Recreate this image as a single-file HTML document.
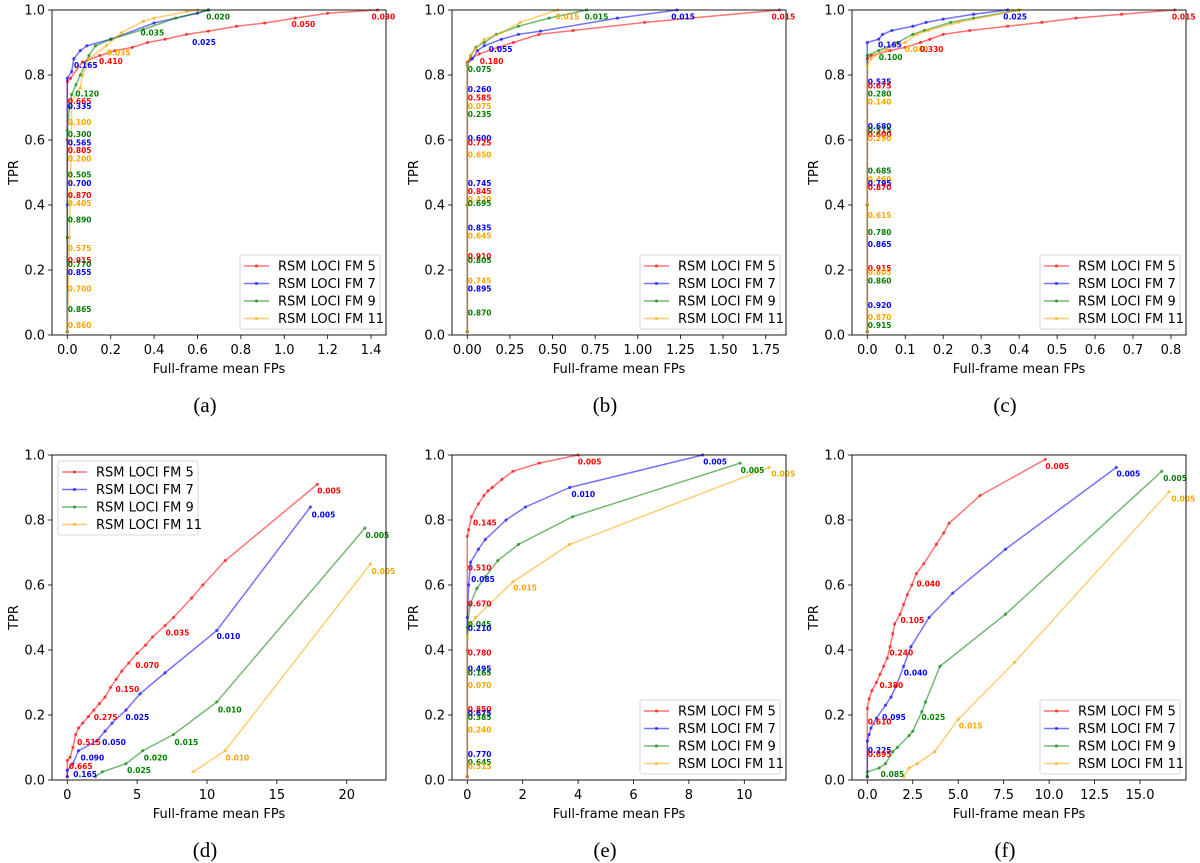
<!DOCTYPE html>
<html><head><meta charset="utf-8"><style>
html,body{margin:0;padding:0;background:#fff;}
svg{display:block;font-family:"DejaVu Sans","Liberation Sans",sans-serif;}
</style></head><body>
<svg id="fig" width="1200" height="863" viewBox="0 0 1200 863"></svg>
<script>
const seriesNames = ["RSM LOCI FM 5","RSM LOCI FM 7","RSM LOCI FM 9","RSM LOCI FM 11"];
const seriesColors = ["#ff0000","#0000ff","#008000","#ffa500"];
const panelLetters = ["(a)","(b)","(c)","(d)","(e)","(f)"];
const yTicks = [0,0.2,0.4,0.6,0.8,1.0];
const xTicksA = [0,0.2,0.4,0.6,0.8,1.0,1.2,1.4];
const xTicksB = [0,0.25,0.5,0.75,1.0,1.25,1.5,1.75];
const xTicksC = [0,0.1,0.2,0.3,0.4,0.5,0.6,0.7,0.8];
const xTicksD = [0,5,10,15,20];
const xTicksE = [0,2,4,6,8,10];
const xTicksF = [0,2.5,5,7.5,10,12.5,15];

const a_fm5 = [[0,0.01],[0,0.3],[0,0.6],[0,0.78],[0.015,0.79],[0.07,0.84],[0.15,0.86],[0.22,0.875],[0.3,0.885],[0.37,0.9],[0.45,0.91],[0.55,0.925],[0.65,0.935],[0.78,0.95],[0.91,0.96],[1.05,0.975],[1.2,0.99],[1.43,1.0]];
const a_fm7 = [[0,0.01],[0,0.4],[0,0.79],[0.02,0.81],[0.03,0.85],[0.06,0.875],[0.09,0.89],[0.2,0.91],[0.4,0.96],[0.6,0.99],[0.65,1.0]];
const a_fm9 = [[0,0.01],[0,0.3],[0,0.63],[0.01,0.7],[0.02,0.74],[0.04,0.77],[0.06,0.8],[0.1,0.86],[0.13,0.89],[0.2,0.91],[0.35,0.94],[0.5,0.975],[0.65,1.0]];
const a_fm11 = [[0,0.01],[0.01,0.3],[0.02,0.65],[0.02,0.72],[0.06,0.76],[0.07,0.8],[0.1,0.85],[0.18,0.89],[0.25,0.93],[0.35,0.965],[0.4,0.975],[0.55,0.995],[0.6,1.0]];
const b_fm5 = [[0,0.01],[0,0.4],[0,0.84],[0.02,0.85],[0.07,0.865],[0.18,0.885],[0.27,0.9],[0.42,0.925],[0.62,0.937],[1.04,0.962],[1.83,1.0]];
const b_fm7 = [[0,0.01],[0,0.4],[0,0.835],[0.03,0.85],[0.06,0.875],[0.1,0.89],[0.2,0.91],[0.3,0.925],[0.43,0.935],[0.88,0.975],[1.23,1.0]];
const b_fm9 = [[0,0.01],[0,0.4],[0,0.83],[0.02,0.86],[0.05,0.885],[0.1,0.9],[0.17,0.925],[0.3,0.95],[0.48,0.975],[0.7,1.0]];
const b_fm11 = [[0,0.01],[0,0.4],[0,0.835],[0.02,0.86],[0.05,0.88],[0.1,0.91],[0.2,0.93],[0.31,0.962],[0.53,1.0]];
const c_fm5 = [[0,0.01],[0,0.4],[0,0.85],[0.01,0.86],[0.06,0.875],[0.1,0.885],[0.14,0.9],[0.165,0.91],[0.2,0.925],[0.27,0.937],[0.37,0.95],[0.46,0.962],[0.55,0.975],[0.67,0.987],[0.81,1.0]];
const c_fm7 = [[0,0.01],[0,0.4],[0,0.9],[0.03,0.91],[0.04,0.925],[0.065,0.937],[0.12,0.95],[0.155,0.962],[0.2,0.972],[0.28,0.987],[0.37,1.0]];
const c_fm9 = [[0,0.01],[0,0.4],[0,0.86],[0.03,0.875],[0.08,0.9],[0.12,0.925],[0.15,0.937],[0.22,0.962],[0.28,0.975],[0.4,1.0]];
const c_fm11 = [[0,0.01],[0,0.4],[0,0.83],[0.01,0.85],[0.02,0.86],[0.05,0.88],[0.1,0.9],[0.13,0.925],[0.16,0.937],[0.24,0.962],[0.4,1.0]];
const d_fm5 = [[0,0.01],[0,0.06],[0.2,0.07],[0.4,0.1],[0.6,0.14],[0.8,0.16],[1.1,0.175],[1.5,0.195],[1.9,0.215],[2.3,0.235],[2.7,0.255],[3.1,0.285],[3.5,0.31],[3.9,0.335],[4.4,0.36],[5,0.39],[5.6,0.415],[6.1,0.44],[7,0.475],[7.6,0.5],[8.9,0.56],[9.7,0.6],[11.3,0.675],[17.9,0.91]];
const d_fm7 = [[0,0.01],[0,0.03],[0.4,0.05],[0.8,0.09],[2.1,0.12],[2.7,0.15],[3.2,0.175],[4.2,0.215],[5.2,0.265],[7,0.33],[10.7,0.46],[17.4,0.84]];
const d_fm9 = [[2,0.01],[2.5,0.025],[4.2,0.05],[5.4,0.09],[7.6,0.14],[10.7,0.24],[21.3,0.775]];
const d_fm11 = [[9,0.025],[11.3,0.09],[21.7,0.665]];
const e_fm5 = [[0,0.01],[0,0.4],[0,0.75],[0.05,0.77],[0.15,0.81],[0.4,0.85],[0.6,0.875],[0.75,0.89],[0.9,0.9],[1.25,0.925],[1.65,0.95],[2.6,0.975],[4,1.0]];
const e_fm7 = [[0,0.01],[0,0.5],[0.05,0.6],[0.12,0.67],[0.4,0.71],[0.65,0.74],[1.4,0.8],[2.1,0.84],[3.7,0.9],[8.5,1.0]];
const e_fm9 = [[0,0.01],[0,0.47],[0.1,0.54],[0.35,0.59],[0.65,0.625],[1.1,0.675],[1.85,0.725],[3.8,0.81],[9.85,0.975]];
const e_fm11 = [[0,0.01],[0,0.44],[0.1,0.48],[0.3,0.5],[1.65,0.61],[3.7,0.725],[10.9,0.962]];
const f_fm5 = [[0,0.01],[0,0.22],[0.1,0.25],[0.25,0.275],[0.5,0.3],[0.7,0.325],[0.9,0.35],[1.1,0.375],[1.25,0.41],[1.4,0.45],[1.5,0.48],[1.8,0.51],[2,0.54],[2.2,0.57],[2.45,0.6],[2.7,0.635],[3.1,0.665],[3.8,0.725],[4.2,0.76],[4.5,0.79],[6.2,0.875],[9.8,0.987]];
const f_fm7 = [[0,0.01],[0,0.12],[0.1,0.14],[0.2,0.16],[0.5,0.19],[1,0.23],[1.3,0.255],[1.6,0.29],[2,0.35],[2.4,0.41],[3.4,0.5],[4.7,0.575],[7.6,0.71],[13.7,0.962]];
const f_fm9 = [[0,0.01],[0,0.025],[0.65,0.037],[1,0.05],[1.4,0.087],[1.65,0.1],[2.3,0.137],[2.5,0.15],[3,0.21],[3.2,0.24],[4,0.35],[7.6,0.51],[16.2,0.95]];
const f_fm11 = [[2,0.01],[2.3,0.037],[2.75,0.05],[3.7,0.087],[5,0.187],[8.1,0.362],[16.6,0.887]];

const a_notes = [[0,0.718,"0.665",0],[0,0.703,"0.335",1],[0,0.654,"0.100",3],[0,0.617,"0.300",2],[0,0.591,"0.565",1],[0,0.567,"0.805",0],[0,0.542,"0.200",3],[0,0.492,"0.505",2],[0,0.466,"0.700",1],[0,0.429,"0.870",0],[0,0.405,"0.405",3],[0,0.354,"0.890",2],[0,0.266,"0.575",3],[0,0.23,"0.915",0],[0,0.217,"0.770",2],[0,0.192,"0.855",1],[0,0.142,"0.700",3],[0,0.079,"0.865",2],[0,0.029,"0.860",3],[0.035,0.742,"0.120",2],[0.028,0.83,"0.165",1],[0.144,0.842,"0.410",0],[0.18,0.867,"0.035",3],[0.335,0.93,"0.035",2],[0.573,0.9,"0.025",1],[0.638,0.979,"0.020",2],[1.031,0.955,"0.050",0],[1.4,0.979,"0.030",0]];
const b_notes = [[0.123,0.879,"0.055",1],[0.07,0.842,"0.180",0],[0,0.817,"0.075",2],[0,0.755,"0.260",1],[0,0.729,"0.585",0],[0,0.703,"0.075",3],[0,0.679,"0.235",2],[0,0.604,"0.600",1],[0,0.591,"0.725",0],[0,0.554,"0.650",3],[0,0.466,"0.745",1],[0,0.441,"0.845",0],[0,0.417,"0.420",3],[0,0.405,"0.695",2],[0,0.329,"0.835",1],[0,0.304,"0.645",3],[0,0.242,"0.910",0],[0,0.23,"0.805",2],[0,0.166,"0.745",3],[0,0.142,"0.895",1],[0,0.067,"0.870",2],[0.514,0.979,"0.015",3],[0.685,0.979,"0.015",2],[1.193,0.979,"0.015",1],[1.781,0.979,"0.015",0]];
const c_notes = [[0.027,0.892,"0.165",1],[0.097,0.879,"0.040",3],[0.137,0.879,"0.330",0],[0.029,0.854,"0.100",2],[0,0.779,"0.535",1],[0,0.766,"0.675",0],[0,0.741,"0.280",2],[0,0.717,"0.140",3],[0,0.642,"0.680",1],[0,0.629,"0.515",2],[0,0.617,"0.600",0],[0,0.604,"0.290",3],[0,0.504,"0.685",2],[0,0.479,"0.460",3],[0,0.466,"0.795",1],[0,0.454,"0.870",0],[0,0.367,"0.615",3],[0,0.316,"0.780",2],[0,0.279,"0.865",1],[0,0.204,"0.915",0],[0,0.192,"0.805",3],[0,0.166,"0.860",2],[0,0.091,"0.920",1],[0,0.054,"0.870",3],[0,0.029,"0.915",2],[0.357,0.979,"0.025",1],[0.801,0.979,"0.015",0]];
const d_notes = [[17.85,0.89,"0.005",0],[17.45,0.816,"0.005",1],[21.31,0.752,"0.005",2],[21.74,0.641,"0.005",3],[7.0,0.453,"0.035",0],[10.65,0.441,"0.010",1],[4.84,0.353,"0.070",0],[3.41,0.279,"0.150",0],[1.86,0.192,"0.275",0],[4.13,0.192,"0.025",1],[10.74,0.216,"0.010",2],[0.67,0.116,"0.515",0],[2.46,0.116,"0.050",1],[7.64,0.116,"0.015",2],[0.91,0.067,"0.090",1],[5.44,0.067,"0.020",2],[11.29,0.067,"0.010",3],[0.077,0.042,"0.665",0],[4.25,0.029,"0.025",2],[0.39,0.017,"0.165",1]];
const e_notes = [[3.97,0.978,"0.005",0],[8.5,0.978,"0.005",1],[9.85,0.953,"0.005",2],[10.96,0.941,"0.005",3],[3.74,0.879,"0.010",1],[0.19,0.791,"0.145",0],[0,0.653,"0.510",0],[0.12,0.617,"0.085",1],[1.64,0.591,"0.015",3],[0,0.541,"0.670",0],[0,0.479,"0.045",2],[0,0.466,"0.210",1],[0,0.391,"0.780",0],[0,0.341,"0.495",1],[0,0.329,"0.165",2],[0,0.291,"0.070",3],[0,0.217,"0.850",0],[0,0.204,"0.675",1],[0,0.192,"0.385",2],[0,0.154,"0.240",3],[0,0.079,"0.770",1],[0,0.054,"0.645",2],[0,0.042,"0.515",3]];
const f_notes = [[9.77,0.965,"0.005",0],[13.68,0.941,"0.005",1],[16.25,0.928,"0.005",2],[16.7,0.865,"0.005",3],[2.68,0.603,"0.040",0],[1.8,0.491,"0.105",0],[1.19,0.391,"0.240",0],[1.98,0.329,"0.040",1],[0.64,0.291,"0.380",0],[0.79,0.192,"0.095",1],[2.95,0.192,"0.025",2],[5.01,0.166,"0.015",3],[0,0.178,"0.610",0],[0,0.091,"0.225",1],[0,0.079,"0.695",0],[0.7,0.017,"0.085",2]];

const NS = "http://www.w3.org/2000/svg";
const svg = document.getElementById("fig");
function mk(tag, attrs, parent){const e=document.createElementNS(NS,tag);for(const k in attrs)e.setAttribute(k,attrs[k]);(parent||svg).appendChild(e);return e;}

const panels = [
 {ox:0,top:10,xmin:-0.0705,xmax:1.469,ticks:xTicksA,dec:1,series:[a_fm5,a_fm7,a_fm9,a_fm11],notes:a_notes,leg:"br"},
 {ox:400,top:10,xmin:-0.0897,xmax:1.869,ticks:xTicksB,dec:2,series:[b_fm5,b_fm7,b_fm9,b_fm11],notes:b_notes,leg:"br"},
 {ox:800,top:10,xmin:-0.0403,xmax:0.8396,ticks:xTicksC,dec:1,series:[c_fm5,c_fm7,c_fm9,c_fm11],notes:c_notes,leg:"br"},
 {ox:0,top:455,xmin:-1.095,xmax:22.81,ticks:xTicksD,dec:0,series:[d_fm5,d_fm7,d_fm9,d_fm11],notes:d_notes,leg:"tl"},
 {ox:400,top:455,xmin:-0.552,xmax:11.505,ticks:xTicksE,dec:0,series:[e_fm5,e_fm7,e_fm9,e_fm11],notes:e_notes,leg:"br"},
 {ox:800,top:455,xmin:-0.842,xmax:17.53,ticks:xTicksF,dec:1,series:[f_fm5,f_fm7,f_fm9,f_fm11],notes:f_notes,leg:"br"}
];

panels.forEach((p,pi)=>{
  const L=p.ox+52, R=p.ox+386, T=p.top, B=p.top+325;
  const xs=v=>L+(v-p.xmin)/(p.xmax-p.xmin)*(R-L);
  const ys=v=>B-v*(B-T);
  const g=mk("g",{});
  
  
  // ticks
  yTicks.forEach(t=>{
    mk("line",{x1:L-4,x2:L,y1:ys(t),y2:ys(t),stroke:"#000","stroke-width":0.8},g);
    const tx=mk("text",{x:L-7,y:ys(t)+4.5,"text-anchor":"end","font-size":13},g);
    tx.textContent=t.toFixed(1);
    
    
  });
  p.ticks.forEach(t=>{
    mk("line",{x1:xs(t),x2:xs(t),y1:B,y2:B+4,stroke:"#000","stroke-width":0.8},g);
    const tx=mk("text",{x:xs(t),y:B+19,"text-anchor":"middle","font-size":13},g);
    tx.textContent=t.toFixed(p.dec);
    
    
  });
  const xt=mk("text",{x:(L+R)/2,y:B+38,"text-anchor":"middle","font-size":13},g);
  xt.textContent="Full-frame mean FPs";
  
  
  const yt=mk("text",{x:0,y:0,"text-anchor":"middle","font-size":13,transform:`translate(${p.ox+18},${(T+B)/2}) rotate(-90)`},g);
  yt.textContent="TPR";
  
  
  const cap=mk("text",{x:p.ox+205,y:B+77,"text-anchor":"middle","font-size":21,"font-family":"Liberation Serif, serif"},g);
  cap.textContent=panelLetters[pi];
  
  
  // clip
  const cid="clip"+pi;
  const cp=mk("clipPath",{id:cid},g); mk("rect",{x:L,y:T-2,width:R-L,height:B-T+4},cp);
  const plot=mk("g",{"clip-path":`url(#${cid})`},g);
  p.series.forEach((s,si)=>{
    const pl=mk("polyline",{points:s.map(d=>xs(d[0])+","+ys(d[1])).join(" "),fill:"none",stroke:seriesColors[si],"stroke-width":1.5,"stroke-opacity":0.55},plot);
    
    
    s.forEach(d=>{
      const c=mk("circle",{cx:xs(d[0]),cy:ys(d[1]),r:1.6,fill:seriesColors[si],"fill-opacity":0.6},plot);
      
      
    });
  });
  p.notes.forEach(n=>{
    const t=mk("text",{x:xs(n[0])+0.5,y:ys(n[1])+2.5,"font-size":7.5,"font-weight":"bold",fill:seriesColors[n[3]]},g);
    t.textContent=n[2];
    
    
  });
  mk("rect",{x:L,y:T,width:R-L,height:B-T,fill:"none",stroke:"#000","stroke-width":0.9},g);
  // legend
  const lx = p.leg==="tl" ? L+6 : R-146;
  const ly = p.leg==="tl" ? T+6 : B-80;
  const lg=mk("g",{},g);
  
  
  mk("rect",{x:lx,y:ly,width:140,height:74,fill:"#fff","fill-opacity":0.85,stroke:"#ccc","stroke-width":0.8,rx:2},lg);
  seriesNames.forEach((nm,si)=>{
    const yy=ly+11+si*17.5;
    mk("line",{x1:lx+4,x2:lx+29,y1:yy,y2:yy,stroke:seriesColors[si],"stroke-width":1.5,"stroke-opacity":0.55},lg);
    mk("circle",{cx:lx+16.5,cy:yy,r:1.6,fill:seriesColors[si],"fill-opacity":0.6},lg);
    const t=mk("text",{x:lx+38,y:yy+4.5,"font-size":13},lg);
    t.textContent=nm;
    
    
  });
});
</script>
</body></html>
